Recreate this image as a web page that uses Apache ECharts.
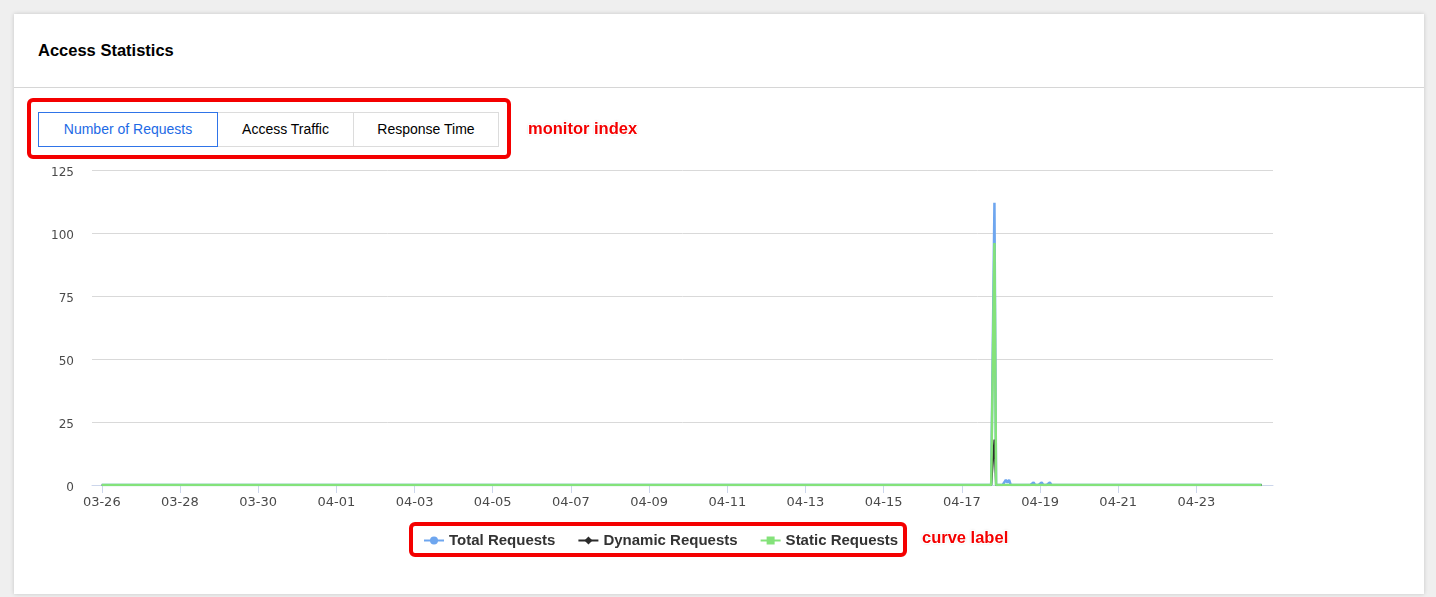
<!DOCTYPE html>
<html>
<head>
<meta charset="utf-8">
<title>Access Statistics</title>
<script src="https://cdn.jsdelivr.net/npm/echarts@6/dist/echarts.min.js"></script>
<style>
  html, body { margin: 0; padding: 0; }
  body {
    width: 1436px; height: 597px; overflow: hidden; position: relative;
    background: #efefef;
    font-family: "Liberation Sans", Arial, Helvetica, sans-serif;
  }
  .card {
    position: absolute; left: 14px; top: 14px; width: 1410px; height: 580px;
    background: #fff;
    box-shadow: 0 0 4px rgba(0,0,0,0.18);
  }
  .card-title {
    position: absolute; left: 24px; top: 27px;
    font-size: 16.5px; font-weight: bold; color: #000;
  }
  .card-divider {
    position: absolute; left: 0; right: 0; top: 73px; height: 1px; background: #d6d6d6;
  }
  #chart { position: absolute; left: 0; top: 0; width: 1436px; height: 597px; }
  .tabs { position: absolute; left: 38px; top: 112px; height: 35px; display: flex; }
  .tab {
    box-sizing: border-box; height: 35px; line-height: 33px; text-align: center;
    font-size: 14px; color: #000; border: 1px solid #dcdcdc; margin-left: -1px; background: #fff;
  }
  .tab.active { color: #1d6ae5; border-color: #2f74e8; position: relative; z-index: 2; margin-left: 0; }
  .mark-box {
    position: absolute; box-sizing: border-box; border: 4px solid #f40000; border-radius: 6px;
  }
  .mark-text {
    position: absolute; color: #f40000; font-size: 16.5px; font-weight: bold;
    text-shadow: -1px -1px 0 #fff, 1px -1px 0 #fff, -1px 1px 0 #fff, 1px 1px 0 #fff, 0 0 3px rgba(0,0,0,0.35);
  }
</style>
</head>
<body>
<div class="card">
  <div class="card-title">Access Statistics</div>
  <div class="card-divider"></div>
</div>
<div id="chart"></div>
<div class="tabs">
  <div class="tab active" style="width:180px">Number of Requests</div>
  <div class="tab" style="width:137px">Access Traffic</div>
  <div class="tab" style="width:146px">Response Time</div>
</div>
<div class="mark-box" style="left:27px;top:98px;width:484px;height:61px"></div>
<div class="mark-text" style="left:528px;top:119px">monitor index</div>
<div class="mark-box" style="left:409px;top:522px;width:498px;height:35px"></div>
<div class="mark-text" style="left:922px;top:528px">curve label</div>

<script>
// hourly buckets, first day .. last day of the range
var firstDay = [3, 26];
var dayCount = 30;
var padHours = 6;            // empty slots in front of 03-26 00:00
var lastDataHour = '04-24 16:00';

var seriesNames = ['Total Requests', 'Dynamic Requests', 'Static Requests'];
var seriesColors = ['#6ea6ef', '#2b2b2b', '#84e27a'];

// non-zero hours, everything else is 0
var totalPoints = [
    ['04-17 20:00', 112],
    ['04-18 03:00', 2],
    ['04-18 04:00', 1],
    ['04-18 05:00', 2],
    ['04-18 20:00', 1],
    ['04-19 01:00', 1],
    ['04-19 06:00', 1]
];
var dynamicPoints = [
    ['04-17 20:00', 18]
];
var staticPoints = [
    ['04-17 20:00', 96]
];

var yTicks = [0, 25, 50, 75, 100, 125];

function pad2(n) {
    return (n < 10 ? '0' : '') + n;
}

function buildCategories() {
    var list = [];
    for (var p = 0; p < padHours; p++) {
        list.push('');
    }
    var d = new Date(2019, firstDay[0] - 1, firstDay[1]);
    for (var i = 0; i < dayCount; i++) {
        var day = pad2(d.getMonth() + 1) + '-' + pad2(d.getDate());
        for (var h = 0; h < 24; h++) {
            list.push(day + ' ' + pad2(h) + ':00');
        }
        d.setDate(d.getDate() + 1);
    }
    return list;
}

var categories = buildCategories();
var lastIndex = categories.indexOf(lastDataHour);

function buildSeries(points) {
    var values = [];
    for (var i = 0; i < categories.length; i++) {
        if (categories[i] === '' || i > lastIndex) {
            values.push(null);
        } else {
            values.push(0);
        }
    }
    points.forEach(function (p) {
        values[categories.indexOf(p[0])] = p[1];
    });
    return values;
}

// label / tick every second day at midnight
function showDayTick(index, value) {
    if (!value) return false;
    var hourIdx = index - padHours;
    return hourIdx % 48 === 0;
}

var chart = echarts.init(document.getElementById('chart'), null, { renderer: 'canvas' });

var option = {
    animation: false,
    color: seriesColors,
    textStyle: {
        fontFamily: '"Liberation Sans", Arial, Helvetica, sans-serif'
    },
    legend: {
        left: 418,
        top: 528,
        itemWidth: 20,
        itemHeight: 10,
        itemGap: 22,
        textStyle: {
            fontSize: 15,
            fontWeight: 'bold',
            color: '#333'
        },
        data: seriesNames
    },
    grid: {
        left: 92,
        right: 163,
        top: 170,
        bottom: 112,
        containLabel: false
    },
    xAxis: {
        type: 'category',
        boundaryGap: false,
        data: categories,
        axisLine: {
            lineStyle: { color: '#ccd6eb', width: 1 }
        },
        axisTick: {
            interval: showDayTick,
            length: 8,
            lineStyle: { color: '#ccd6eb' }
        },
        axisLabel: {
            interval: showDayTick,
            margin: 11,
            fontSize: 13,
            fontFamily: '"DejaVu Sans", sans-serif',
            color: '#4a4a4a',
            formatter: function (value) {
                return value.slice(0, 5);
            }
        },
        splitLine: { show: false }
    },
    yAxis: {
        type: 'value',
        min: yTicks[0],
        max: yTicks[yTicks.length - 1],
        interval: 25,
        axisLine: { show: false },
        axisTick: { show: false },
        axisLabel: {
            margin: 18,
            fontSize: 12,
            verticalAlign: 'top',
            lineHeight: 5,
            fontFamily: '"DejaVu Sans", sans-serif',
            color: '#4a4a4a'
        },
        splitLine: {
            lineStyle: { color: '#d9d9d9', width: 1 }
        }
    },
    series: [{
        name: seriesNames[0],
        type: 'line',
        symbol: 'circle',
        symbolSize: 8,
        showSymbol: false,
        lineStyle: { width: 2.5 },
        data: buildSeries(totalPoints)
    }, {
        name: seriesNames[1],
        type: 'line',
        symbol: 'diamond',
        symbolSize: 8,
        showSymbol: false,
        lineStyle: { width: 2 },
        data: buildSeries(dynamicPoints)
    }, {
        name: seriesNames[2],
        type: 'line',
        symbol: 'rect',
        symbolSize: 8,
        showSymbol: false,
        lineStyle: { width: 2.5 },
        data: buildSeries(staticPoints)
    }]
};

chart.setOption(option);
</script>
</body>
</html>
